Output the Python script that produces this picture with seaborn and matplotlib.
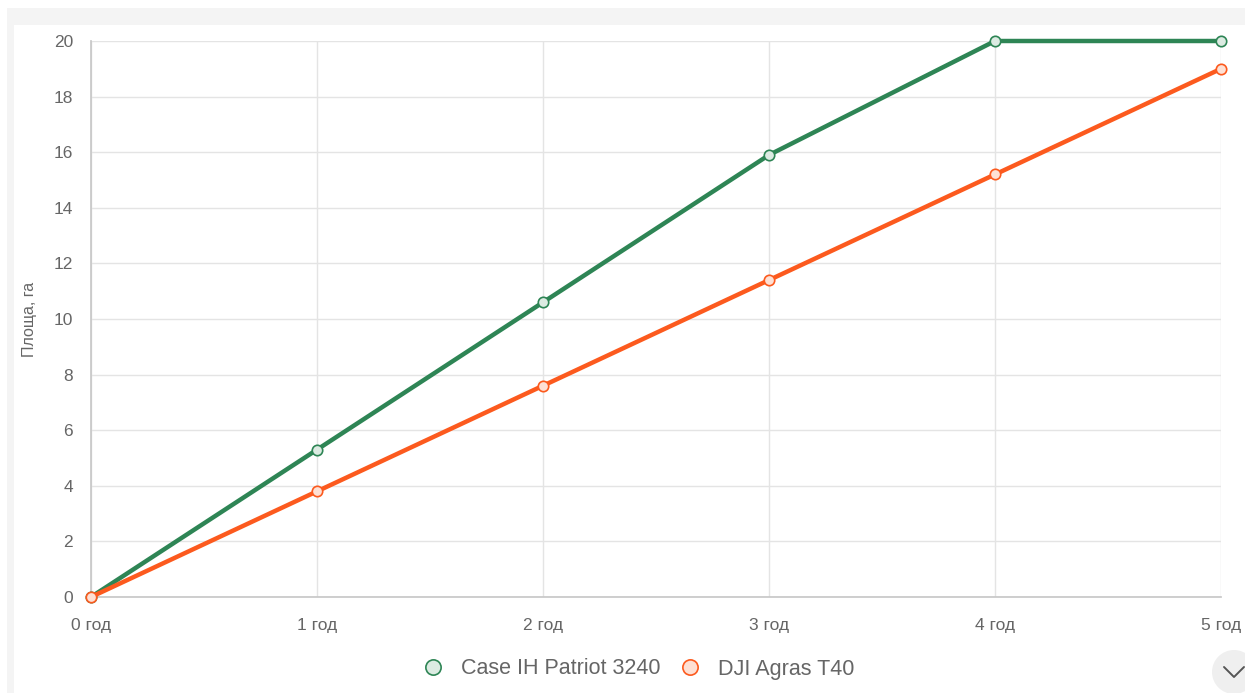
import matplotlib
matplotlib.use("Agg")
import matplotlib.pyplot as plt
from matplotlib.patches import Rectangle, Ellipse
from matplotlib.lines import Line2D
import seaborn as sns
import pandas as pd

years = [0, 1, 2, 3, 4, 5]
year_labels = ["0 год", "1 год", "2 год", "3 год", "4 год", "5 год"]
case_ih = [0, 5.3, 10.6, 15.9, 20, 20]
dji_t40 = [0, 3.8, 7.6, 11.4, 15.2, 19]
series_names = ["Case IH Patriot 3240", "DJI Agras T40"]
y_ticks = [0, 2, 4, 6, 8, 10, 12, 14, 16, 18, 20]

colors = {"Case IH Patriot 3240": "#2e8555", "DJI Agras T40": "#fc5a1e"}
fills = {"Case IH Patriot 3240": "#dcebe2", "DJI Agras T40": "#fee0d4"}

sns.set_theme(style="white")
plt.rcParams["font.family"] = ["Liberation Sans", "DejaVu Sans"]

W, H = 1245, 693
fig = plt.figure(figsize=(W / 100, H / 100), dpi=100)
fig.patch.set_facecolor("white")

# page backdrop and card
fig.add_artist(Rectangle((7 / W, 0), 1, 1 - 8 / H, transform=fig.transFigure,
                         facecolor="#f4f4f4", edgecolor="none", zorder=-3))
fig.add_artist(Rectangle((14 / W, 0), 1, 1 - 25 / H, transform=fig.transFigure,
                         facecolor="white", edgecolor="none", zorder=-2))

ax = fig.add_axes([91 / W, 1 - 597 / H, (1221 - 91) / W, (597 - 41) / H])
ax.set_facecolor("none")

df = pd.DataFrame({
    "year": years * 2,
    "area": case_ih + dji_t40,
    "series": [series_names[0]] * len(years) + [series_names[1]] * len(years),
})

for name in series_names:
    sub = df[df["series"] == name]
    sns.lineplot(data=sub, x="year", y="area", ax=ax, color=colors[name],
                 linewidth=3.2, marker="o", markersize=7.5,
                 markerfacecolor=fills[name], markeredgecolor=colors[name],
                 markeredgewidth=1.2, clip_on=False, legend=False, zorder=3)

ax.set_xlim(0, 5)
ax.set_ylim(0, 20)
ax.set_xticks(years)
ax.set_xticklabels(year_labels)
ax.set_yticks(y_ticks)
ax.grid(True, color="#e4e4e4", linewidth=1)
for s in ["top", "right"]:
    ax.spines[s].set_visible(False)
ax.spines["left"].set_color("#c8c8c8")
ax.spines["bottom"].set_color("#c8c8c8")
ax.tick_params(axis="both", which="both", length=10, color="#e4e4e4",
               labelcolor="#666666", labelsize=12.5, width=1)
ax.tick_params(axis="x", pad=5)
ax.tick_params(axis="y", pad=3)
ax.set_xlabel("")
ax.set_ylabel("Площа, га", color="#666666", fontsize=11.5, labelpad=12)

handles = [Line2D([], [], linestyle="none", marker="o", markersize=11,
                  markerfacecolor=fills[n], markeredgecolor=colors[n],
                  markeredgewidth=1.2, label=n) for n in series_names]
leg = fig.legend(handles=handles, loc="center", bbox_to_anchor=(633 / W, 1 - 669 / H),
                 ncol=2, frameon=False, fontsize=15.5, handletextpad=0.3,
                 columnspacing=0.35, labelcolor="#666666")

# scroll button in the corner
fig.add_artist(Ellipse((1234 / W, 1 - 672 / H), 44 / W, 44 / H, transform=fig.transFigure,
                       facecolor="#efefef", edgecolor="none", zorder=5))
fig.add_artist(Line2D([1224 / W, 1234 / W, 1244 / W],
                      [1 - 667 / H, 1 - 677 / H, 1 - 667 / H],
                      transform=fig.transFigure, color="#555555", linewidth=1.4, zorder=6))

fig.savefig("out.png", dpi=100)
